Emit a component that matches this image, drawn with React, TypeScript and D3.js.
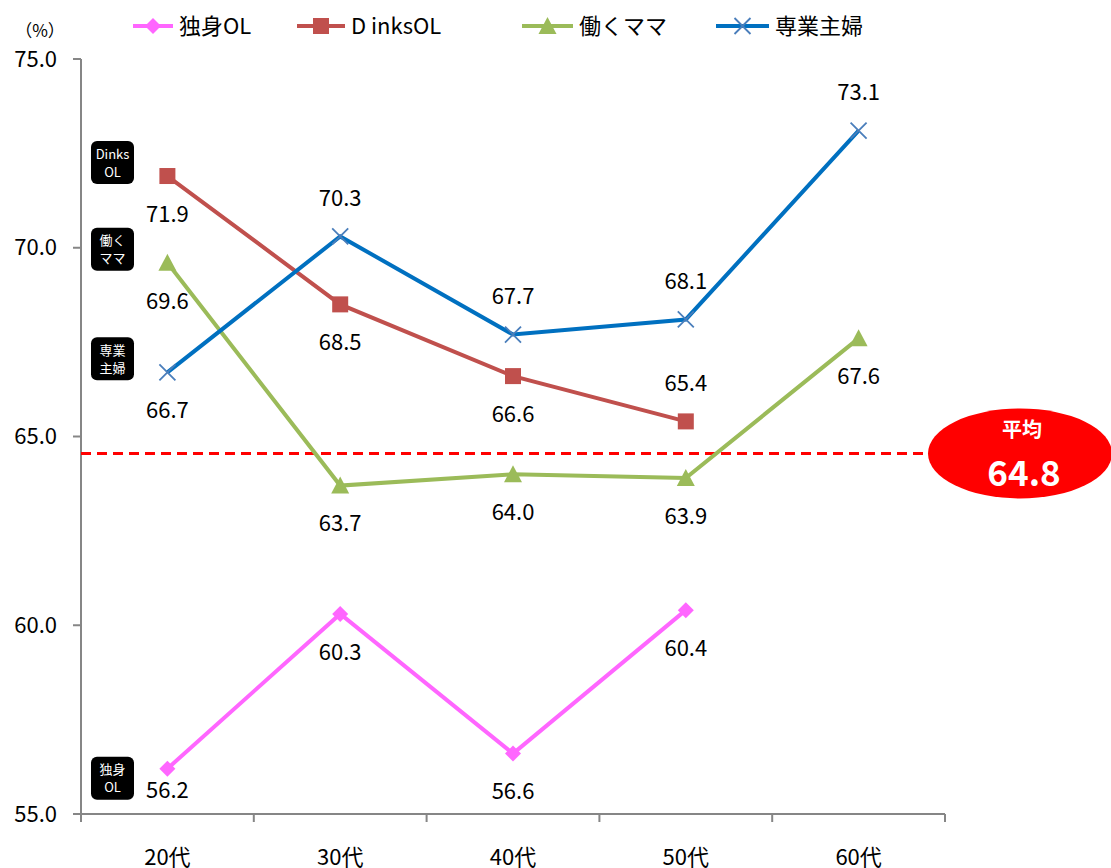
import React from "react";
import * as d3 from "d3";

const categories = ["20代", "30代", "40代", "50代", "60代"];
const seriesNames = ["独身OL", "D inksOL", "働くママ", "専業主婦"];
const dokushin: (number | null)[] = [56.2, 60.3, 56.6, 60.4, null];
const dinks: (number | null)[] = [71.9, 68.5, 66.6, 65.4, null];
const mama: (number | null)[] = [69.6, 63.7, 64.0, 63.9, 67.6];
const shufu: (number | null)[] = [66.7, 70.3, 67.7, 68.1, 73.1];
const yTicks = [55, 60, 65, 70, 75];
const avgLine = 64.55;
const avgLabel = "64.8";
const sideTags = [
  { lines: ["Dinks", "OL"], value: 71.9 },
  { lines: ["働く", "ママ"], value: 69.6 },
  { lines: ["専業", "主婦"], value: 66.7 },
  { lines: ["独身", "OL"], value: 56.2 },
];

const colors = ["#FF66FF", "#C0504D", "#9BBB59", "#0070C0"];
const markers = ["diamond", "square", "triangle", "x"];
// label placement: 1 below, -1 above
const placements = [
  [0.58, 1, 1, 1, 1],
  [1, 1, 1, -1, 1],
  [1, 1, 1, 1, 1],
  [1, -1, -1, -1, -1],
];

const W = 1111, H = 868;
const left = 81, right = 945, top = 59, bottom = 814;
const FONT = "'Noto Sans CJK JP', 'Noto Sans', sans-serif";

function Marker({ type, x, y, color }: { type: string; x: number; y: number; color: string }) {
  if (type === "diamond") {
    const s = 8;
    return <path d={`M${x},${y - s}L${x + s},${y}L${x},${y + s}L${x - s},${y}Z`} fill={color} />;
  }
  if (type === "square") {
    const s = 8;
    return <rect x={x - s} y={y - s} width={2 * s} height={2 * s} fill={color} />;
  }
  if (type === "triangle") {
    const s = 9;
    return <path d={`M${x},${y - s}L${x + s},${y + s - 1}L${x - s},${y + s - 1}Z`} fill={color} />;
  }
  const s = 8;
  return (
    <path d={`M${x - s},${y - s}L${x + s},${y + s}M${x + s},${y - s}L${x - s},${y + s}`} stroke="#4A7EBB" strokeWidth={1.8} />
  );
}

export default function App() {
  const x = d3.scaleBand<string>().domain(categories).range([left, right]);
  const y = d3.scaleLinear().domain([55, 75]).range([bottom, top]);
  const data = [dokushin, dinks, mama, shufu];
  const cx = (c: string) => (x(c) as number) + x.bandwidth() / 2;
  const line = d3
    .line<[string, number | null]>()
    .defined((d) => d[1] != null)
    .x((d) => cx(d[0]))
    .y((d) => y(d[1] as number));

  const legendX = [133, 297, 522, 716];
  const legendW = [40, 48, 51, 53];

  return (
    <svg width={W} height={H} style={{ position: "absolute", left: 0, top: 0, fontFamily: FONT }}>
      <rect width={W} height={H} fill="#fff" />
      {/* axes */}
      <line x1={left} x2={left} y1={top} y2={bottom} stroke="#868686" strokeWidth={2} />
      <line x1={73} x2={right} y1={bottom} y2={bottom} stroke="#868686" strokeWidth={2} />
      {yTicks.map((t) => (
        <g key={t}>
          <line x1={73} x2={left} y1={y(t)} y2={y(t)} stroke="#868686" strokeWidth={2} />
          <text x={57} y={y(t)} dy="0.35em" textAnchor="end" fontSize={22} fill="#000">
            {t.toFixed(1)}
          </text>
        </g>
      ))}
      {categories.map((c, i) => (
        <line key={"b" + i} x1={x(c) as number} x2={x(c) as number} y1={bottom} y2={bottom + 8} stroke="#868686" strokeWidth={2} />
      ))}
      <line x1={right} x2={right} y1={bottom} y2={bottom + 8} stroke="#868686" strokeWidth={2} />
      {categories.map((c) => (
        <text key={c} x={cx(c)} y={857} dy="0.35em" textAnchor="middle" fontSize={22} fill="#000">
          {c}
        </text>
      ))}
      <text x={40} y={31} dy="0.35em" textAnchor="middle" fontSize={17} fill="#000">（%）</text>

      {/* average line */}
      <line x1={left} x2={930} y1={y(avgLine)} y2={y(avgLine)} stroke="#FF0000" strokeWidth={3} strokeDasharray="10,6" />
      <ellipse cx={1020} cy={y(avgLine)} rx={92} ry={45} fill="#FF0000" />
      <text x={1022} y={y(avgLine) - 23} dy="0.35em" textAnchor="middle" fontSize={20} fontWeight="bold" fill="#fff">平均</text>
      <text x={1024} y={y(avgLine) + 20} dy="0.35em" textAnchor="middle" fontSize={35} fontWeight="bold" fill="#fff">{avgLabel}</text>

      {/* series */}
      {data.map((vals, si) => (
        <g key={si}>
          <path d={line(categories.map((c, i) => [c, vals[i]]) as any) || ""} fill="none" stroke={colors[si]} strokeWidth={4} />
          {vals.map((v, i) =>
            v == null ? null : <Marker key={i} type={markers[si]} x={cx(categories[i])} y={y(v)} color={colors[si]} />
          )}
          {vals.map((v, i) =>
            v == null ? null : (
              <text key={"l" + i} x={cx(categories[i])} y={y(v) + placements[si][i] * 38} dy="0.35em" textAnchor="middle" fontSize={22} fill="#000">
                {v.toFixed(1)}
              </text>
            )
          )}
        </g>
      ))}

      {/* side tags */}
      {sideTags.map((t, i) => {
        const yy = y(t.value);
        const h = 43;
        const y0 = i === 3 ? yy - 12 : yy - 35;
        return (
          <g key={i}>
            <rect x={91} y={y0} width={43} height={h} rx={6} fill="#000" />
            <text x={112.5} y={y0 + 13} dy="0.35em" textAnchor="middle" fontSize={13} fill="#fff">{t.lines[0]}</text>
            <text x={112.5} y={y0 + 31} dy="0.35em" textAnchor="middle" fontSize={13} fill="#fff">{t.lines[1]}</text>
          </g>
        );
      })}

      {/* legend */}
      {seriesNames.map((n, i) => {
        const lx = legendX[i];
        const lw = legendW[i];
        return (
          <g key={n}>
            <line x1={lx} x2={lx + lw} y1={26} y2={26} stroke={colors[i]} strokeWidth={4} />
            <Marker type={markers[i]} x={lx + lw / 2} y={26} color={colors[i]} />
            <text x={lx + lw + 6} y={26} dy="0.35em" fontSize={22} fill="#000">{n}</text>
          </g>
        );
      })}
    </svg>
  );
}
